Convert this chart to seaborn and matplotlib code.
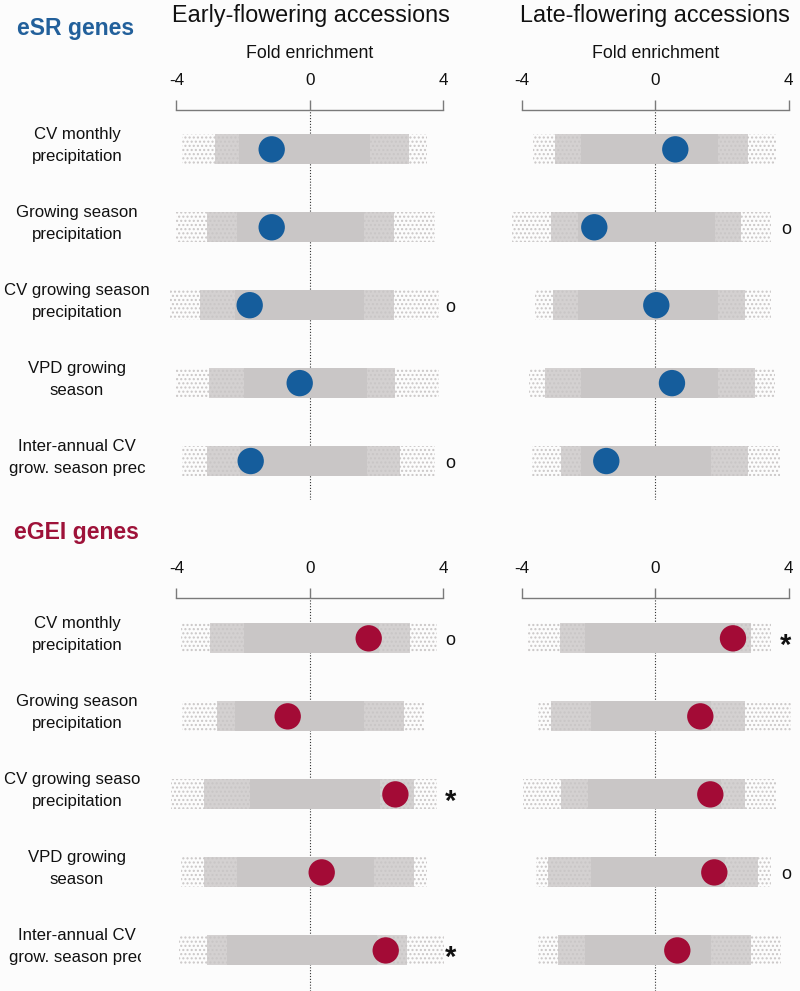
import numpy as np
import pandas as pd
import matplotlib
matplotlib.use("Agg")
import matplotlib.pyplot as plt
import seaborn as sns
from matplotlib.transforms import Bbox, TransformedBbox, blended_transform_factory

# ---------------- data ----------------
row_labels = ["CV monthly\nprecipitation",
              "Growing season\nprecipitation",
              "CV growing season\nprecipitation",
              "VPD growing\nseason",
              "Inter-annual CV\ngrow. season prec"]
column_titles = ["Early-flowering accessions", "Late-flowering accessions"]
group_titles = ["eSR genes", "eGEI genes"]
x_ticks = [-4, 0, 4]
x_tick_labels = ["-4", "0", "4"]

# observed fold enrichment
esr_early_obs = [-1.14, -1.14, -1.80, -0.30, -1.77]
esr_late_obs = [0.60, -1.83, 0.03, 0.50, -1.47]
egei_early_obs = [1.77, -0.66, 2.57, 0.36, 2.28]
egei_late_obs = [2.33, 1.35, 1.65, 1.77, 0.66]

# significance marks
esr_early_sig = ["", "", "o", "", "o"]
esr_late_sig = ["", "o", "", "", ""]
egei_early_sig = ["o", "", "*", "", "*"]
egei_late_sig = ["*", "", "", "o", ""]

# null distribution extents (permutations): dense core, bulk, full range
esr_early_core_lo = [-2.13, -2.18, -2.23, -1.98, -2.08]
esr_early_core_hi = [1.82, 1.62, 1.62, 1.72, 1.72]
esr_early_bulk_lo = [-2.83, -3.08, -3.28, -3.03, -3.08]
esr_early_bulk_hi = [2.97, 2.52, 2.52, 2.57, 2.72]
esr_early_full_lo = [-3.83, -4.00, -4.20, -4.00, -3.83]
esr_early_full_hi = [3.52, 3.77, 3.87, 3.87, 3.77]

esr_late_core_lo = [-2.22, -2.32, -2.32, -2.22, -2.22]
esr_late_core_hi = [1.88, 1.78, 1.88, 1.88, 1.68]
esr_late_bulk_lo = [-3.02, -3.12, -3.07, -3.32, -2.82]
esr_late_bulk_hi = [2.78, 2.58, 2.68, 2.98, 2.78]
esr_late_full_lo = [-3.67, -4.30, -3.60, -3.80, -3.70]
esr_late_full_hi = [3.63, 3.48, 3.48, 3.58, 3.73]

egei_early_core_lo = [-1.98, -2.23, -1.78, -2.18, -2.48]
egei_early_core_hi = [2.07, 1.62, 2.12, 1.92, 2.02]
egei_early_bulk_lo = [-2.98, -2.78, -3.18, -3.18, -3.08]
egei_early_bulk_hi = [3.02, 2.82, 3.12, 3.12, 2.92]
egei_early_full_lo = [-3.87, -3.83, -4.17, -3.87, -3.93]
egei_early_full_hi = [3.82, 3.42, 3.82, 3.52, 4.02]

egei_late_core_lo = [-2.12, -1.92, -2.02, -1.92, -2.12]
egei_late_core_hi = [2.38, 1.68, 1.98, 2.08, 1.68]
egei_late_bulk_lo = [-2.87, -3.12, -2.82, -3.22, -2.92]
egei_late_bulk_hi = [2.88, 2.68, 2.68, 3.08, 2.88]
egei_late_full_lo = [-3.82, -3.52, -3.97, -3.57, -3.52]
egei_late_full_hi = [3.48, 4.08, 3.63, 3.48, 3.78]

# ---------------- style ----------------
sns.set_theme(style="white")
plt.rcParams["font.family"] = ["Liberation Sans", "DejaVu Sans"]
plt.rcParams["hatch.linewidth"] = 1.0

BG = "#fcfcfc"
GRAY = "#c9c6c6"
GRAY_MID = "#d4d1d1"
BLUE = "#155d9c"
RED = "#a30b36"
BLUE_T = "#22609b"
RED_T = "#9e1239"
TXT = "#111111"

W, H = 800, 991
fig = plt.figure(figsize=(W / 100, H / 100), dpi=100, facecolor=BG)

XL = (-4.5, 4.3)
UNIT = 33.34  # px per unit
def panel_rect(zero_px, top_px, bot_px):
    left = zero_px + XL[0] * UNIT
    width = (XL[1] - XL[0]) * UNIT
    return [left / W, 1 - bot_px / H, width / W, (bot_px - top_px) / H]

panels = [
    dict(rect=panel_rect(309.7, 110, 500), ylim=(4.50, -0.505), obs=esr_early_obs, sig=esr_early_sig,
         core=(esr_early_core_lo, esr_early_core_hi), bulk=(esr_early_bulk_lo, esr_early_bulk_hi),
         full=(esr_early_full_lo, esr_early_full_hi), color=BLUE, sigx=4.22),
    dict(rect=panel_rect(655.3, 110, 500), ylim=(4.50, -0.505), obs=esr_late_obs, sig=esr_late_sig,
         core=(esr_late_core_lo, esr_late_core_hi), bulk=(esr_late_bulk_lo, esr_late_bulk_hi),
         full=(esr_late_full_lo, esr_late_full_hi), color=BLUE, sigx=3.92),
    dict(rect=panel_rect(309.7, 598, 991), ylim=(4.52, -0.517), obs=egei_early_obs, sig=egei_early_sig,
         core=(egei_early_core_lo, egei_early_core_hi), bulk=(egei_early_bulk_lo, egei_early_bulk_hi),
         full=(egei_early_full_lo, egei_early_full_hi), color=RED, sigx=4.22),
    dict(rect=panel_rect(655.3, 598, 991), ylim=(4.52, -0.517), obs=egei_late_obs, sig=egei_late_sig,
         core=(egei_late_core_lo, egei_late_core_hi), bulk=(egei_late_bulk_lo, egei_late_bulk_hi),
         full=(egei_late_full_lo, egei_late_full_hi), color=RED, sigx=3.92),
]

BAR_H = 0.385
axes = []
for p in panels:
    ax = fig.add_axes(p["rect"])
    ax.set_facecolor("none")
    ax.set_xlim(*XL)
    ax.set_ylim(*p["ylim"])
    ypos = np.arange(len(row_labels))

    ax.axvline(0, color="#333333", lw=0.8, ls=(0, (1, 1.6)), zorder=0.5)

    flo, fhi = p["full"]
    ax.barh(ypos, np.array(fhi) - np.array(flo), left=flo, height=BAR_H, color="none",
            edgecolor=GRAY, hatch="....", linewidth=0, zorder=1, clip_on=False)
    blo, bhi = p["bulk"]
    ax.barh(ypos, np.array(bhi) - np.array(blo), left=blo, height=BAR_H, color=GRAY_MID,
            edgecolor=GRAY, hatch="....", linewidth=0, zorder=1.5, clip_on=False)
    clo, chi = p["core"]
    ax.barh(ypos, np.array(chi) - np.array(clo), left=clo, height=BAR_H, color=GRAY,
            linewidth=0, zorder=2, clip_on=False)

    df = pd.DataFrame({"fold": p["obs"], "row": ypos})
    sns.scatterplot(data=df, x="fold", y="row", ax=ax, s=360, color=p["color"],
                    edgecolor="none", linewidth=0, zorder=3, legend=False, clip_on=False)

    for yi, s in zip(ypos, p["sig"]):
        if s == "o":
            ax.text(p["sigx"], yi, "o", ha="center", va="center_baseline", fontsize=13, color=TXT)
        elif s == "*":
            ax.text(p["sigx"], yi + 0.1, "*", ha="center", va="center", fontsize=21,
                    fontweight="bold", color=TXT)

    for side in ["left", "right", "bottom"]:
        ax.spines[side].set_visible(False)
    ax.spines["top"].set_visible(True)
    ax.spines["top"].set_bounds(-4, 4)
    ax.spines["top"].set_color("#7a7a7a")
    ax.spines["top"].set_linewidth(1.0)
    ax.xaxis.tick_top()
    ax.set_xticks(x_ticks)
    ax.set_xticklabels(x_tick_labels)
    ax.tick_params(axis="x", top=True, bottom=False, length=7, width=1.0, color="#7a7a7a",
                   direction="out", pad=9, labelsize=12.3, labelcolor=TXT)
    ax.set_yticks([])
    ax.set_xlabel("")
    ax.set_ylabel("")
    axes.append(ax)

# "Fold enrichment" labels
for zero_px in [309.7, 655.3]:
    fig.text(zero_px / W, 1 - 53 / H, "Fold enrichment", ha="center", va="center",
             fontsize=12.8, color=TXT)

# column titles
for zero_px, t in zip([311, 655.3], column_titles):
    fig.text(zero_px / W, 1 - 4 / H, t, ha="center", va="top", fontsize=16.8, color=TXT)

# group titles
fig.text(17 / W, 1 - 29 / H, group_titles[0], ha="left", va="center", fontsize=16.6,
         fontweight="bold", color=BLUE_T)
fig.text(14 / W, 1 - 532 / H, group_titles[1], ha="left", va="center", fontsize=16.6,
         fontweight="bold", color=RED_T)

# row labels (left column only), clipped like the original boxes
for ax, clip_px in [(axes[0], 153), (axes[2], 141)]:
    tr = blended_transform_factory(fig.transFigure, ax.transData)
    clip = TransformedBbox(Bbox([[0, 0], [clip_px / W, 1]]), fig.transFigure)
    for i, lab in enumerate(row_labels):
        t = fig.text(77 / W, i - 0.05, lab, transform=tr, ha="center", va="center",
                     multialignment="center", fontsize=12.1, linespacing=1.6, color=TXT)
        t.set_clip_box(clip)
        t.set_clip_on(True)

fig.savefig("out.png", dpi=100, facecolor=BG)
